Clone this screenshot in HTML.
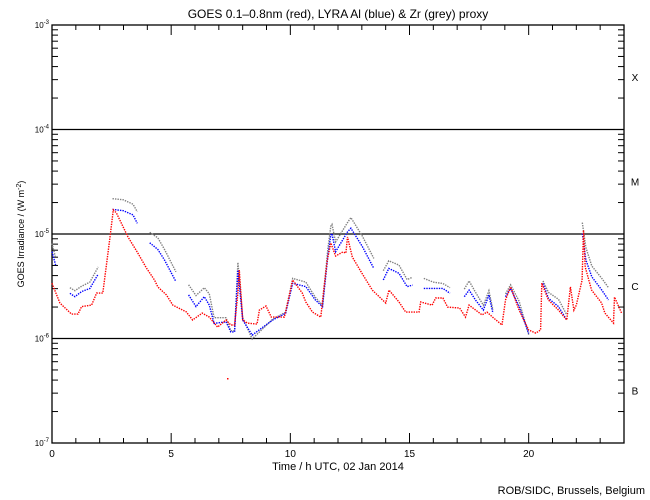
<!DOCTYPE html>
<html><head><meta charset="utf-8"><style>
html,body{margin:0;padding:0;background:#fff;}
svg{display:block;font-family:"Liberation Sans",sans-serif;}
</style></head><body>
<svg id="chart" width="650" height="500" viewBox="0 0 650 500">
<text x="338" y="18" font-size="12" text-anchor="middle">GOES 0.1–0.8nm (red), LYRA Al (blue) &amp; Zr (grey) proxy</text>
<text x="338" y="470" font-size="11" text-anchor="middle">Time / h UTC, 02 Jan 2014</text>
<text transform="translate(24,234) rotate(-90)" font-size="9" text-anchor="middle">GOES Irradiance / (W m<tspan dy="-3" font-size="7">-2</tspan><tspan dy="3">)</tspan></text>
<text x="645" y="494" font-size="11" text-anchor="end">ROB/SIDC, Brussels, Belgium</text>
<g id="axes"></g>
<g id="series"></g>
</svg>
<script>
const redT=[0,0.33,0.82,1.09,1.24,1.66,1.87,2.13,2.43,2.57,2.7,3.19,3.6,3.96,4.3,4.44,4.8,5.07,5.63,5.9,6.3,6.6,6.95,7.3,7.5,7.66,7.8,7.86,8.0,8.2,8.6,8.7,8.98,9.2,9.75,10.1,10.5,10.65,10.93,11.28,11.4,11.55,11.7,11.9,12.2,12.33,12.4,12.6,13.0,13.44,14.0,14.14,14.56,14.84,15.4,15.47,15.95,16.1,16.4,16.6,17.1,17.35,17.5,18.04,18.25,18.53,18.88,19.03,19.24,19.6,20.0,20.3,20.5,20.55,20.83,21.25,21.6,21.75,21.9,22.0,22.24,22.3,22.37,22.64,23.06,23.2,23.56,23.6,23.9];
const redV=[3.41,2.21,1.73,1.73,2.04,2.11,2.75,2.75,9.26,17.2,16.1,9.46,6.65,4.78,3.67,3.15,2.64,2.11,1.82,1.52,1.77,1.62,1.30,1.52,1.36,1.36,2.75,4.57,1.52,1.42,1.39,1.89,2.07,1.62,1.62,3.67,2.75,2.26,1.81,1.62,2.94,5.70,8.29,6.23,6.80,6.65,9.46,6.09,4.28,2.94,2.21,2.94,2.26,1.81,1.81,2.26,2.11,2.47,2.47,2.02,1.98,1.62,2.11,1.70,1.81,1.59,1.36,2.36,3.15,1.89,1.22,1.14,1.22,3.43,2.36,1.89,1.52,3.15,1.89,2.11,3.67,11.0,4.89,2.94,2.21,1.77,1.42,2.52,1.77];
const blueT=[0,0.15,null,0.75,0.96,1.24,1.59,1.94,null,2.54,2.99,3.4,3.58,null,4.1,4.44,4.72,5.2,null,5.73,6.04,6.39,6.6,6.8,7.3,7.5,7.66,7.8,8.0,8.4,9.26,9.8,10.1,10.65,11.05,11.35,11.57,11.7,11.75,11.9,12.4,12.54,13.03,13.5,null,13.9,14.13,14.56,14.9,15.13,null,15.6,16.0,16.4,16.7,null,17.3,17.5,17.77,18.1,18.33,18.5,null,19.03,19.24,19.6,20.0,null,20.6,20.83,21.25,21.6,null,22.25,22.4,22.65,23.07,23.35,null,23.9];
const blueV=[6.84,5.12,null,2.74,2.54,2.84,3.05,4.18,null,17.4,16.9,15.4,12.8,null,8.33,7.2,5.7,3.54,null,2.64,2.04,2.54,2.11,1.41,1.46,1.17,1.17,4.57,1.52,1.09,1.52,1.76,3.41,3.17,2.36,2.04,6.13,9.9,10.2,6.84,10.6,11.5,7.62,4.74,null,3.67,4.74,4.25,3.17,3.28,null,3.05,3.05,3.05,2.74,null,2.54,2.94,2.36,1.89,2.64,1.77,null,2.54,3.05,2.04,1.13,null,3.41,2.45,2.04,1.52,null,10.2,5.7,3.94,2.94,2.36,null,2.19];
const greyV=[8.2,6.0,null,3.1,2.9,3.2,3.5,4.9,null,22,21.5,19.5,16.5,null,10.5,9.3,7.2,4.4,null,3.3,2.6,3.1,2.7,1.6,1.6,1.2,1.2,5.4,1.6,1.0,1.55,1.8,3.8,3.5,2.5,2.1,7.2,12,12.5,8.5,13,14.5,9.6,5.9,null,4.5,5.6,5.1,3.7,3.9,null,3.8,3.5,3.4,3.1,null,3.0,3.6,2.8,2.1,2.9,1.9,null,2.7,3.3,2.3,1.1,null,3.6,2.8,2.4,1.7,null,13,7.5,5.0,3.8,3.1,null,2.6];
const xTickLabels=[0,5,10,15,20];
const decadeExps=[-3,-4,-5,-6,-7];
const classLabels=['X','M','C','B'];

const NS='http://www.w3.org/2000/svg';
const L=52,R=624,T=25,B=443;
const xs=h=>L+(R-L)*h/24;
const ys=v=>339-104.5*Math.log10(v); // v in units of 1e-6 W/m2
const ye=e=>T+(-3-e)*(B-T)/4;
const ax=document.getElementById('axes'),sg=document.getElementById('series');
function mk(tag,attrs,parent){const e=document.createElementNS(NS,tag);for(const k in attrs)e.setAttribute(k,attrs[k]);parent.appendChild(e);return e;}

const frame=mk('rect',{x:L,y:T,width:R-L,height:B-T,fill:'none',stroke:'#000','stroke-width':1.3},ax);


for(let h=0;h<=24;h++){const x=xs(h),len=h%5===0?10:5;
 const t1=mk('line',{x1:x,x2:x,y1:B,y2:B-len,stroke:'#000'},ax);
 
 
 const t2=mk('line',{x1:x,x2:x,y1:T,y2:T+len,stroke:'#000'},ax);
 
 }
xTickLabels.forEach(h=>{const t=mk('text',{x:xs(h),y:457,'font-size':10,'text-anchor':'middle'},ax);t.textContent=h;
 
 });
decadeExps.forEach((e,i)=>{const y=ye(e);
 if(e<-3&&e>-7){const g=mk('line',{x1:L,x2:R,y1:y,y2:y,stroke:'#000','stroke-width':1.3},ax);
  
  }
 const t=mk('text',{x:49,y:y+3,'font-size':8,'text-anchor':'end'},ax);
 t.innerHTML='10<tspan dy="-4" font-size="6">'+e+'</tspan>';
 
 
 if(e>-7){for(let m=2;m<=9;m++){const yy=y-104.5*Math.log10(m)+104.5;
  const a=mk('line',{x1:L,x2:L+6,y1:yy,y2:yy,stroke:'#000'},ax);
  
  
  const b=mk('line',{x1:R,x2:R-6,y1:yy,y2:yy,stroke:'#000'},ax);
  
  }
  const c=mk('text',{x:635,y:y+52+4,'font-size':10,'text-anchor':'middle'},ax);c.textContent=classLabels[i];
  
  }
});
function draw(T_,V,color,name){let pts=[];const flush=()=>{if(pts.length>1){const p=mk('polyline',{points:pts.join(' '),fill:'none',stroke:color,'stroke-width':1.4,'stroke-dasharray':'1.4 1.1'},sg);
 
 }pts=[];};
 T_.forEach((t,i)=>{if(t===null||V[i]===null){flush();return;}pts.push(xs(t).toFixed(1)+','+ys(V[i]).toFixed(1));});flush();}
draw(blueT,greyV,'#808080','zr-proxy-grey-series');
draw(blueT,blueV,'#0000ff','al-proxy-blue-series');
draw(redT,redV,'#ff0000','goes-red-series');
const d=mk('rect',{x:227,y:378,width:1.5,height:1.5,fill:'#ff0000'},sg);


</script>
</body></html>
